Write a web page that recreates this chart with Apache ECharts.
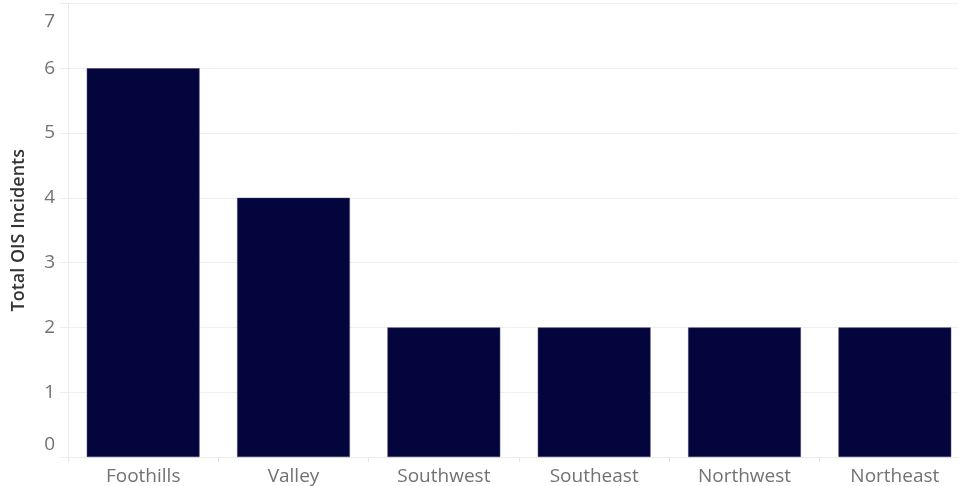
<!DOCTYPE html>
<html>
<head>
<meta charset="utf-8">
<script src="https://cdn.jsdelivr.net/npm/echarts@6/dist/echarts.min.js"></script>
<style>
html,body{margin:0;padding:0;background:#fff;}
#chart{width:958px;height:486px;}
</style>
</head>
<body>
<div id="chart"></div>
<script>
const categories = ['Foothills', 'Valley', 'Southwest', 'Southeast', 'Northwest', 'Northeast'];
const incidents = [6, 4, 2, 2, 2, 2];
const yAxisTitle = 'Total OIS Incidents';
const yMin = 0, yMax = 7, yStep = 1;

const chart = echarts.init(document.getElementById('chart'), null, {renderer: 'canvas'});
const font = '"Open Sans", sans-serif';
const labelColor = '#727272';
chart.setOption({
  animation: false,
  backgroundColor: '#ffffff',
  grid: {left: 68, right: -12, top: 3.5, bottom: 29, containLabel: false, outerBoundsMode: 'none'},
  xAxis: {
    type: 'category',
    data: categories,
    axisLine: {show: true, lineStyle: {color: '#ececec', width: 1}},
    axisTick: {show: true, length: 5, lineStyle: {color: '#e6e6e6'}},
    axisLabel: {color: labelColor, fontFamily: font, fontSize: 19, margin: 10}
  },
  yAxis: {
    type: 'value',
    min: yMin, max: yMax, interval: yStep,
    name: yAxisTitle,
    nameLocation: 'middle',
    nameGap: 40,
    nameTextStyle: {color: '#333333', fontFamily: font, fontSize: 18, fontWeight: 600},
    axisLine: {show: true, lineStyle: {color: '#ececec'}},
    axisTick: {show: true, length: 8, lineStyle: {color: '#ececec'}},
    splitLine: {show: true, lineStyle: {color: '#efefef', width: 1}},
    axisLabel: {
      color: labelColor, fontFamily: font, fontSize: 19, margin: 13,
      formatter: function (v) {
        if (v === yMin) return '{lo|' + v + '}';
        if (v === yMax) return '{hi|' + v + '}';
        return String(v);
      },
      rich: {
        lo: {color: labelColor, fontFamily: font, fontSize: 19, padding: [0, 0, 24, 0]},
        hi: {color: labelColor, fontFamily: font, fontSize: 19, padding: [36, 0, 0, 0]}
      }
    }
  },
  series: [{
    type: 'bar',
    data: incidents,
    barCategoryGap: '25%',
    itemStyle: {color: '#05053d', borderColor: '#3a3a66', borderWidth: 0.5}
  }]
});
</script>
</body>
</html>
